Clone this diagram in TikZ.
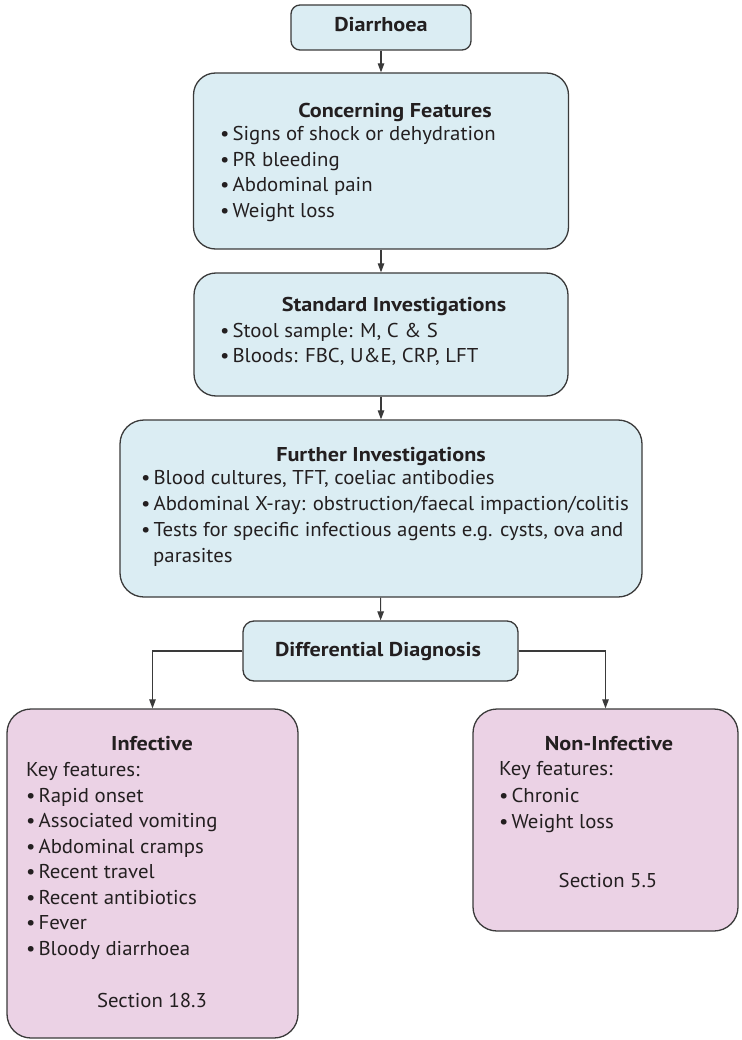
\documentclass[tikz,border=0pt]{standalone}
\usepackage{fontspec}
\setmainfont{PT Sans}[FakeStretch=1.04]
\newfontfamily\ttlfont{PT Sans Bold}[FakeStretch=1.11]
\usetikzlibrary{arrows.meta}

\definecolor{boxblue}{HTML}{DBEDF3}
\definecolor{boxpink}{HTML}{EBD2E5}
\definecolor{edgegrey}{HTML}{3A3A3A}
\definecolor{ink}{HTML}{231F20}

\newcommand\bul{\textbullet\hspace{3pt}}

\tikzset{
  box/.style={draw=edgegrey, line width=1.3pt, inner sep=0pt},
  bluebox/.style={box, fill=boxblue},
  pinkbox/.style={box, fill=boxpink},
  txt/.style={inner sep=0pt, text=ink, yshift=-2.5pt, font=\fontsize{20}{25}\selectfont},
  ttl/.style={txt, font=\fontsize{20}{25}\ttlfont, anchor=mid},
  itm/.style={txt, anchor=mid west},
  flow/.style={draw=edgegrey, line width=1.1pt, -{Triangle[length=9pt,width=6.5pt]}}
}

\begin{document}
\begin{tikzpicture}[x=1pt, y=-1pt]
\useasboundingbox (0,0) rectangle (741,1040);

% boxes
\node[bluebox, rounded corners=9pt, minimum width=180pt, minimum height=45pt] (dia) at (381,27.5) {};
\node[bluebox, rounded corners=22pt, minimum width=375pt, minimum height=176pt] (conc) at (381,161) {};
\node[bluebox, rounded corners=22pt, minimum width=374pt, minimum height=123pt] (std) at (381,334.5) {};
\node[bluebox, rounded corners=24pt, minimum width=522pt, minimum height=177pt] (fur) at (381,508.5) {};
\node[bluebox, rounded corners=11pt, minimum width=275pt, minimum height=60pt] (diff) at (380.5,651) {};
\node[pinkbox, rounded corners=24pt, minimum width=291pt, minimum height=329pt] (inf) at (152.5,873.5) {};
\node[pinkbox, rounded corners=24pt, minimum width=265pt, minimum height=222pt] (non) at (605.5,820) {};

% connectors
\draw[flow] (dia) -- (conc);
\draw[flow] (conc) -- (std);
\draw[flow] (std) -- (fur);
\draw[flow] (fur) -- (diff);
\draw[flow] (diff.west) -| (inf.north);
\draw[flow] (diff.east) -| (non.north);

% texts
\node[ttl] (tdia) at (381,27) {Diarrhoea};

\node[ttl] (tconc) at (395,113) {Concerning Features};
\node[itm] (c1) at (220,136) {\bul Signs of shock or dehydration};
\node[itm] (c2) at (220,162) {\bul PR bleeding};
\node[itm] (c3) at (220,187) {\bul Abdominal pain};
\node[itm] (c4) at (220,213) {\bul Weight loss};

\node[ttl] (tstd) at (394,307) {Standard Investigations};
\node[itm] (s1) at (220,332) {\bul Stool sample: M, C \& S};
\node[itm] (s2) at (220,357) {\bul Bloods: FBC, U\&E, CRP, LFT};

\node[ttl] (tfur) at (381,456) {Further Investigations};
\node[itm] (f1) at (141,479) {\bul Blood cultures, TFT, coeliac antibodies};
\node[itm] (f2) at (141,505) {\bul Abdominal X-ray: obstruction/faecal impaction/colitis};
\node[itm] (f3) at (141,531) {\bul Tests for specific infectious agents e.g. cysts, ova and};
\node[itm] (f4) at (153,557) {parasites};

\node[ttl] (tdiff) at (378,651) {Differential Diagnosis};

\node[ttl] (tinf) at (152,745) {Infective};
\node[itm] (i0) at (26,771) {Key features:};
\node[itm] (i1) at (26,797) {\bul Rapid onset};
\node[itm] (i2) at (26,822.5) {\bul Associated vomiting};
\node[itm] (i3) at (26,848) {\bul Abdominal cramps};
\node[itm] (i4) at (26,873.5) {\bul Recent travel};
\node[itm] (i5) at (26,899) {\bul Recent antibiotics};
\node[itm] (i6) at (26,924.5) {\bul Fever};
\node[itm] (i7) at (26,950) {\bul Bloody diarrhoea};
\node[txt, anchor=mid] (isec) at (152,1002) {Section 18.3};

\node[ttl] (tnon) at (609,745) {Non-Infective};
\node[itm] (n0) at (499,770) {Key features:};
\node[itm] (n1) at (499,797) {\bul Chronic};
\node[itm] (n2) at (499,823) {\bul Weight loss};
\node[txt, anchor=mid] (nsec) at (608,882) {Section 5.5};
\end{tikzpicture}
\end{document}
